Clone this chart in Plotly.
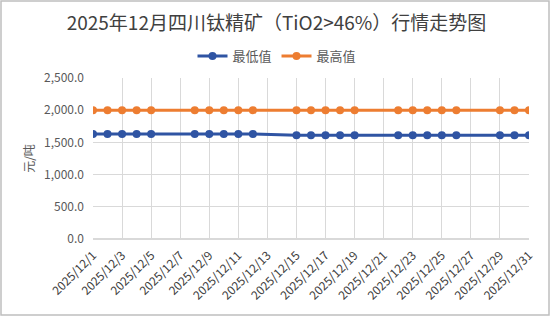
import plotly.graph_objects as go

# Trading days in December 2025 and quoted prices (元/吨)
dates = ["2025-12-01", "2025-12-02", "2025-12-03", "2025-12-04", "2025-12-05",
         "2025-12-08", "2025-12-09", "2025-12-10", "2025-12-11", "2025-12-12",
         "2025-12-15", "2025-12-16", "2025-12-17", "2025-12-18", "2025-12-19",
         "2025-12-22", "2025-12-23", "2025-12-24", "2025-12-25", "2025-12-26",
         "2025-12-29", "2025-12-30", "2025-12-31"]
low_price = [1630, 1630, 1630, 1630, 1630,
             1630, 1630, 1630, 1630, 1630,
             1610, 1610, 1610, 1610, 1610,
             1610, 1610, 1610, 1610, 1610,
             1610, 1610, 1610]
high_price = [2000, 2000, 2000, 2000, 2000,
              2000, 2000, 2000, 2000, 2000,
              2000, 2000, 2000, 2000, 2000,
              2000, 2000, 2000, 2000, 2000,
              2000, 2000, 2000]

FONT = "Noto Sans CJK SC"
BLUE = "#2F54A3"
ORANGE = "#ED7D31"

W, H = 553, 324
L, R, T, B = 93, 24, 78, 85
PW, PH = W - L - R, H - T - B

fig = go.Figure()
fig.add_trace(go.Scatter(x=dates, y=low_price, name="最低值", mode="lines+markers",
                         line=dict(color=BLUE, width=3),
                         marker=dict(color=BLUE, size=8)))
fig.add_trace(go.Scatter(x=dates, y=high_price, name="最高值", mode="lines+markers",
                         line=dict(color=ORANGE, width=3),
                         marker=dict(color=ORANGE, size=8)))

fig.update_layout(
    width=W, height=H,
    margin=dict(l=L, r=R, t=T, b=B),
    paper_bgcolor="white", plot_bgcolor="white",
    font=dict(family=FONT, color="#595959", size=12),
    title=dict(text="2025年12月四川钛精矿（TiO2>46%）行情走势图",
               xref="container", x=0.5, xanchor="center",
               yref="container", y=1 - 23 / H, yanchor="middle",
               font=dict(family=FONT, size=19, color="#404040")),
    legend=dict(orientation="h", x=(277 - L) / PW, xanchor="center",
                y=1 + (T - 56) / PH, yanchor="middle",
                font=dict(family=FONT, size=13, color="#595959"),
                itemwidth=30, tracegroupgap=0),
    showlegend=True,
    shapes=[dict(type="rect", xref="paper", yref="paper",
                 x0=(1 - L) / PW, x1=(549 - L) / PW,
                 y0=(T + PH - 315) / PH, y1=(T + PH - 1) / PH,
                 line=dict(color="#BFBFBF", width=1.5))],
)

fig.update_xaxes(
    type="date", range=["2025-12-01", "2025-12-31"],
    tick0="2025-12-01", dtick=2 * 86400000, tickformat="%Y/%-m/%-d",
    tickangle=-45, tickfont=dict(family=FONT, size=12, color="#404040"),
    ticklabelstandoff=6,
    showgrid=True, gridcolor="#D9D9D9", gridwidth=1,
    showline=False, zeroline=False, ticks="",
)
fig.update_yaxes(
    range=[0, 2500], dtick=500, tickformat=",.1f",
    tickfont=dict(family=FONT, size=12, color="#595959"),
    ticklabelstandoff=8,
    title=dict(text="元/吨", font=dict(family=FONT, size=12, color="#595959"), standoff=6),
    showgrid=True, gridcolor="#D9D9D9", gridwidth=1,
    zeroline=True, zerolinecolor="#D9D9D9", showline=False, ticks="",
)

fig.write_html("out.html")
